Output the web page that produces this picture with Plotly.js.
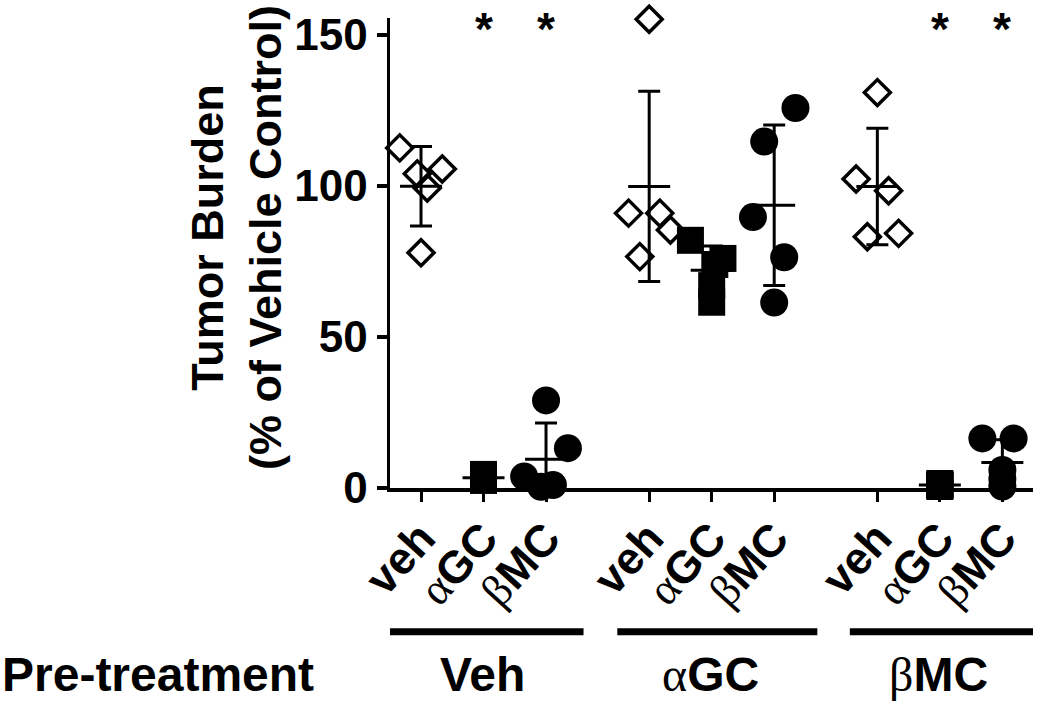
<!DOCTYPE html>
<html>
<head>
<meta charset="utf-8">
<script src="https://cdn.plot.ly/plotly-3.0.1.min.js"></script>
<style>html,body{margin:0;padding:0;background:#fff;}#chart{width:1050px;height:701px;}</style>
</head>
<body>
<div id="chart"></div>
<script>
// ---------------- DATA ----------------
const pretreatments = ['Veh', 'αGC', 'βMC'];
const treatments = ['veh', 'αGC', 'βMC'];

// Tumor burden (% of vehicle control), one array per pre-treatment / treatment
const vehVeh = [112.6, 104, 105.6, 99.3, 77.9];
const vehAGC = [4.5, 4, 3, 3, 2.5];
const vehBMC = [29, 13.2, 3.8, 0.4, 1];
const agcVeh = [155.2, 91, 91, 85.4, 76.6];
const agcAGC = [82, 76, 74, 67, 61.5];
const agcBMC = [125.8, 114.7, 89.7, 76.4, 61.4];
const bmcVeh = [130.9, 102.3, 98.4, 83.2, 84.3];
const bmcAGC = [1.5, 1, 0.5, 1, 0.8];
const bmcBMC = [16.4, 16.4, 6, 3, 0.5];

// horizontal scatter (jitter) of the individual animals, in category units
const jVehVeh = [-0.34, -0.06, 0.34, 0.1, 0];
const jVehAGC = [0, 0, 0, 0, 0];
const jVehBMC = [0, 0.35, -0.35, -0.08, 0.11];
const jAgcVeh = [0, -0.33, 0.17, 0.34, -0.15];
const jAgcAGC = [-0.34, 0.18, 0.05, 0, 0];
const jAgcBMC = [0.34, -0.16, -0.34, 0.16, 0];
const jBmcVeh = [0, -0.34, 0.18, -0.16, 0.34];
const jBmcAGC = [0, 0, 0, 0, 0];
const jBmcBMC = [-0.32, 0.18, 0, 0, 0];

// significance marks (*) per pre-treatment group / treatment
const significant = [[false, true, true], [false, false, false], [false, true, true]];

const yTicks = [0, 50, 100, 150];

// ---------------- LAYOUT HELPERS ----------------
const groupStart = [0, 3.65, 7.3];
const values = [[vehVeh, vehAGC, vehBMC], [agcVeh, agcAGC, agcBMC], [bmcVeh, bmcAGC, bmcBMC]];
const jitters = [[jVehVeh, jVehAGC, jVehBMC], [jAgcVeh, jAgcAGC, jAgcBMC], [jBmcVeh, jBmcAGC, jBmcBMC]];

const symFont = 'font-family:Liberation Serif;font-weight:normal';
function greekify(s) {
  return s.replace(/([αβ])/g, '<span style="' + symFont + '">$1</span>');
}

const markerStyle = [
  {symbol: 'diamond-open', size: 20, color: '#000', line: {color: '#000', width: 3.5}},
  {symbol: 'square', size: 27, color: '#000', line: {width: 0}},
  {symbol: 'circle', size: 28, color: '#000', line: {width: 0}}
];

function mean(a) { return a.reduce((s, v) => s + v, 0) / a.length; }
function sd(a) { const m = mean(a); return Math.sqrt(a.reduce((s, v) => s + (v - m) * (v - m), 0) / (a.length - 1)); }

const traces = [];
const tickvals = [], ticktext = [], means = [], sds = [];
const annotations = [];
for (let g = 0; g < 3; g++) {
  for (let t = 0; t < 3; t++) {
    const x0 = groupStart[g] + t;
    tickvals.push(x0);
    ticktext.push(greekify(treatments[t]));
    const ys = values[g][t];
    traces.push({
      type: 'scatter', mode: 'markers', cliponaxis: false, hoverinfo: 'y',
      x: jitters[g][t].map(j => x0 + j), y: ys,
      marker: markerStyle[t], showlegend: false
    });
    means.push(mean(ys));
    sds.push(sd(ys));
    if (significant[g][t]) {
      annotations.push({
        x: x0, xref: 'x', y: 1.036, yref: 'paper', yanchor: 'top', xanchor: 'center',
        text: '*', showarrow: false,
        font: {family: 'Liberation Sans', size: 46, color: '#000', weight: 'bold'}
      });
    }
  }
}
traces.push({
  type: 'scatter', mode: 'markers', cliponaxis: false, hoverinfo: 'skip',
  x: tickvals, y: means,
  marker: {symbol: 'line-ew', size: 30, color: '#000', line: {color: '#000', width: 3}},
  error_y: {type: 'data', array: sds, visible: true, color: '#000', thickness: 3, width: 11},
  showlegend: false
});

// y-axis title
annotations.push({
  x: -0.238, xref: 'paper', y: 0.534, yref: 'paper', xanchor: 'center', yanchor: 'middle',
  textangle: -90, showarrow: false,
  text: 'Tumor Burden<br>(% of Vehicle Control)',
  font: {family: 'Liberation Sans', size: 45, color: '#000', weight: 'bold'}
});
// pre-treatment row
annotations.push({
  x: -0.6065, xref: 'paper', y: -0.396, yref: 'paper', xanchor: 'left', yanchor: 'middle',
  text: 'Pre-treatment', showarrow: false,
  font: {family: 'Liberation Sans', size: 48, color: '#000', weight: 'bold'}
});
const barCenters = [1.0, 4.74, 8.46];
const shapes = [];
for (let g = 0; g < 3; g++) {
  annotations.push({
    x: groupStart[g] + 1 - 0.02, xref: 'x', y: -0.396, yref: 'paper', xanchor: 'center', yanchor: 'middle',
    text: greekify(pretreatments[g]), showarrow: false,
    font: {family: 'Liberation Sans', size: 48, color: '#000', weight: 'bold'}
  });
  shapes.push({
    type: 'line', xref: 'x', yref: 'paper',
    x0: barCenters[g] - 1.6, x1: barCenters[g] + 1.6, y0: -0.306, y1: -0.306,
    line: {color: '#000', width: 7}
  });
}

const layout = {
  width: 1050, height: 701,
  margin: {l: 390, r: 17, t: 18, b: 213},
  paper_bgcolor: '#fff', plot_bgcolor: '#fff',
  showlegend: false,
  xaxis: {
    range: [-0.496, 9.79], showgrid: false, zeroline: false,
    showline: true, linecolor: '#000', linewidth: 3.5,
    ticks: 'outside', ticklen: 10, tickwidth: 3, tickcolor: '#000',
    ticklabelstandoff: -8,
    tickmode: 'array', tickvals: tickvals, ticktext: ticktext, tickangle: -48,
    tickfont: {family: 'Liberation Sans', size: 45, color: '#000', weight: 'bold'}
  },
  yaxis: {
    range: [0, 155.6], showgrid: false, zeroline: false,
    showline: true, linecolor: '#000', linewidth: 3.5,
    ticks: 'outside', ticklen: 10, tickwidth: 3.5, tickcolor: '#000',
    tickmode: 'array', tickvals: yTicks,
    tickfont: {family: 'Liberation Sans', size: 44, color: '#000', weight: 'bold'}
  },
  annotations: annotations,
  shapes: shapes
};

Plotly.newPlot('chart', traces, layout, {staticPlot: true, displayModeBar: false});
</script>
</body>
</html>
